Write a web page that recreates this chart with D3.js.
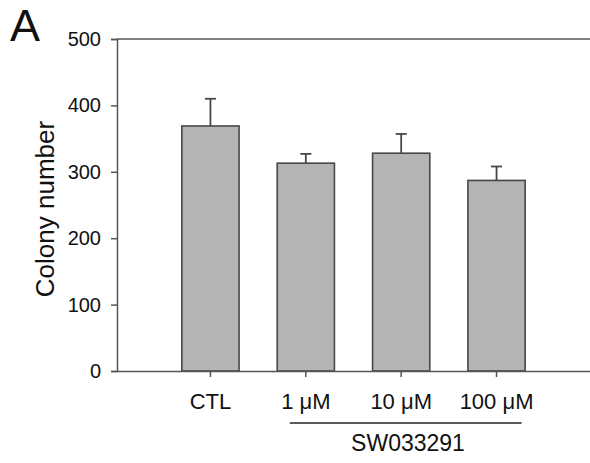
<!DOCTYPE html>
<html><head><meta charset="utf-8">
<script src="https://cdn.jsdelivr.net/npm/d3@7"></script>
<style>body{margin:0;background:#fff}svg{display:block}text{font-family:"Liberation Sans",Arial,sans-serif;fill:#111}</style>
</head><body>
<script>
const categories = ["CTL", "1 μM", "10 μM", "100 μM"];
const values = [369, 313, 328, 287];
const errors = [41, 14, 29, 21];
const yTicks = [0, 100, 200, 300, 400, 500];
const groupLabel = "SW033291";
const yLabel = "Colony number";
const panelLabel = "A";

const W = 590, H = 463;
const svg = d3.select("body").append("svg").attr("width", W).attr("height", H);
const x0 = 117, x1 = 590, yTop = 39, yBot = 371;
const x = d3.scaleBand().domain(categories).range([x0, x1]).paddingInner(0.4).paddingOuter(0.68);
const y = d3.scaleLinear().domain([0, 500]).range([yBot, yTop]);
const axisColor = "#555";

// top frame line
svg.append("line").attr("x1", x0).attr("x2", x1).attr("y1", yTop).attr("y2", yTop)
  .attr("stroke", axisColor).attr("stroke-width", 1.5);

// bars
svg.selectAll("rect.bar").data(categories).join("rect")
  .attr("x", d => x(d)).attr("width", x.bandwidth())
  .attr("y", (d, i) => y(values[i])).attr("height", (d, i) => yBot - y(values[i]))
  .attr("fill", "#b4b4b4").attr("stroke", "#474747").attr("stroke-width", 1.6);

// error bars
const eb = svg.selectAll("g.err").data(categories).join("g");
eb.append("line")
  .attr("x1", d => x(d) + x.bandwidth() / 2).attr("x2", d => x(d) + x.bandwidth() / 2)
  .attr("y1", (d, i) => y(values[i])).attr("y2", (d, i) => y(values[i] + errors[i]))
  .attr("stroke", "#474747").attr("stroke-width", 1.8);
eb.append("line")
  .attr("x1", d => x(d) + x.bandwidth() / 2 - 5.5).attr("x2", d => x(d) + x.bandwidth() / 2 + 5.5)
  .attr("y1", (d, i) => y(values[i] + errors[i])).attr("y2", (d, i) => y(values[i] + errors[i]))
  .attr("stroke", "#474747").attr("stroke-width", 1.8);

// y axis
const yAxis = svg.append("g").attr("transform", `translate(${x0},0)`)
  .call(d3.axisLeft(y).tickValues(yTicks).tickSize(6).tickPadding(10));
yAxis.select(".domain").attr("stroke", axisColor).attr("stroke-width", 1.5);
yAxis.selectAll(".tick line").attr("stroke", axisColor).attr("stroke-width", 1.5);
yAxis.selectAll(".tick text").attr("font-size", 20).attr("fill", "#111")
  .attr("font-family", "Liberation Sans, Arial, sans-serif");

// x axis
const xAxis = svg.append("g").attr("transform", `translate(0,${yBot})`)
  .call(d3.axisBottom(x).tickSize(6).tickPadding(16).tickSizeOuter(0));
xAxis.select(".domain").attr("stroke", axisColor).attr("stroke-width", 1.5);
xAxis.selectAll(".tick line").attr("stroke", axisColor).attr("stroke-width", 1.5);
xAxis.selectAll(".tick text").attr("font-size", 22).attr("fill", "#111")
  .attr("font-family", "Liberation Sans, Arial, sans-serif");

// group underline + label
const gx1 = x(categories[1]) + x.bandwidth() / 2 - 16;
const gx2 = x(categories[3]) + x.bandwidth() / 2 + 25;
svg.append("line").attr("x1", gx1).attr("x2", gx2).attr("y1", 423).attr("y2", 423)
  .attr("stroke", "#222").attr("stroke-width", 1.3);
svg.append("text").attr("x", 408).attr("y", 451).attr("text-anchor", "middle")
  .attr("font-size", 23).text(groupLabel);

// y label
svg.append("text").attr("transform", `translate(54,209) rotate(-90)`)
  .attr("text-anchor", "middle").attr("font-size", 26).text(yLabel);

// panel label
svg.append("text").attr("x", 10).attr("y", 41).attr("font-size", 45).text(panelLabel);
</script>
</body></html>
